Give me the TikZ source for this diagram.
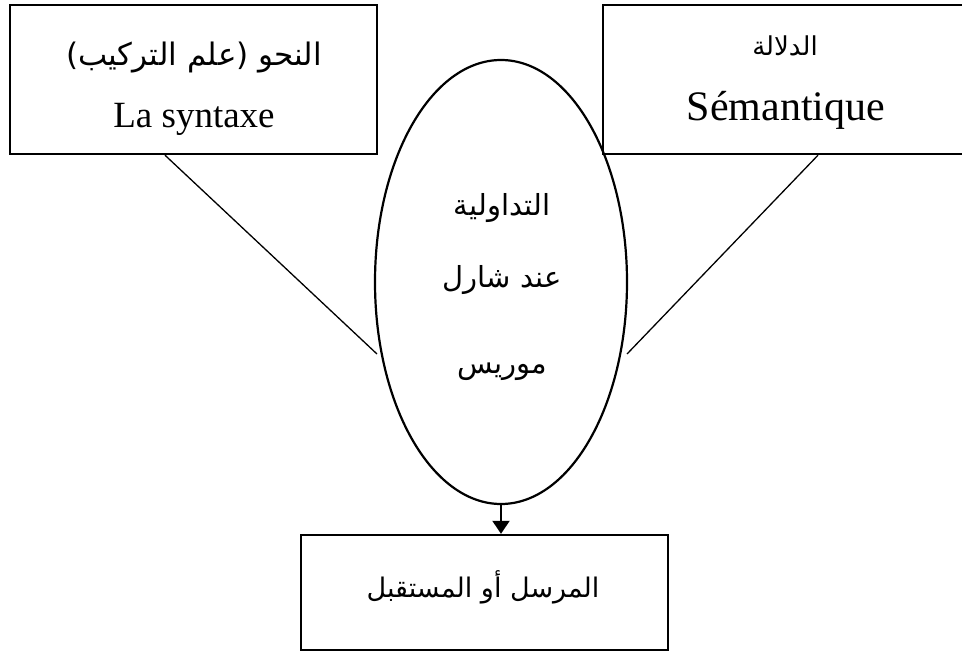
\documentclass[tikz,border=0pt]{standalone}
\usepackage{fontspec}
\setmainfont{Liberation Serif}
\newfontfamily\arabicfont[Script=Arabic]{DejaVu Sans}
\TeXXeTstate=1
\usetikzlibrary{shapes.geometric,arrows.meta}
\begin{document}
\begin{tikzpicture}[x=1pt,y=-1pt,
  box/.style={draw,line width=2.4pt,rectangle,inner sep=0pt},
  oval/.style={draw,line width=2.2pt,ellipse,inner sep=0pt},
  label/.style={anchor=base,inner sep=0pt},
  link/.style={line width=1.3pt},
  arrowlink/.style={line width=2pt,-{Triangle[length=13pt,width=17pt]}}]
\useasboundingbox (0,0) rectangle (962,651);

% frames
\node[box,minimum width=367pt,minimum height=149pt] (lbox) at (193.5,79.5) {};
\node[box,minimum width=397pt,minimum height=149pt] (rbox) at (801.5,79.5) {};
\node[oval,minimum width=252pt,minimum height=444pt] (ell) at (501,282) {};
\node[box,minimum width=367pt,minimum height=115pt] (bbox) at (484.5,592.5) {};

% texts
\node[label,font=\fontsize{31}{36}\selectfont] (lar) at (194,65)
  {\arabicfont\beginR النحو \hbox{(}علم التركيب\hbox{)}\endR};
\node[label,font=\fontsize{37}{42}\selectfont] (llat) at (194,127) {La syntaxe};
\node[label,font=\fontsize{26}{30}\selectfont] (rar) at (785,55) {\arabicfont\beginR الدلالة\endR};
\node[label,font=\fontsize{42}{48}\selectfont] (rlat) at (786,120) {Sémantique};
\node[label,font=\fontsize{29}{34}\selectfont] (e1) at (502,215) {\arabicfont\beginR التداولية\endR};
\node[label,font=\fontsize{29}{34}\selectfont] (e2) at (502,287) {\arabicfont\beginR عند شارل\endR};
\node[label,font=\fontsize{29}{34}\selectfont] (e3) at (502,373) {\arabicfont\beginR موريس\endR};
\node[label,font=\fontsize{27}{32}\selectfont] (b1) at (483,597) {\arabicfont\beginR المرسل أو المستقبل\endR};

% connectors
\coordinate (lend) at (377,354);
\coordinate (rend) at (627,354);
\draw[link] ([xshift=-28.5pt]lbox.south) -- (lend);
\draw[link] ([xshift=16.5pt]rbox.south) -- (rend);
\draw[arrowlink] (ell.south) -- (ell.south |- bbox.north);
\end{tikzpicture}
\end{document}
